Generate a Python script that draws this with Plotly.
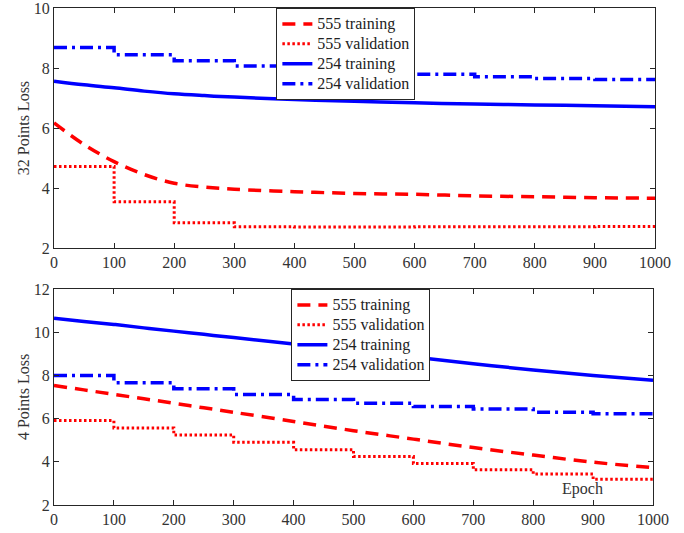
import plotly.graph_objects as go

# ---------------- data ----------------
epochs_train = [0, 50, 100, 150, 200, 250, 300, 400, 500, 600, 700, 800, 900, 1000]
epochs_step = [0, 100, 200, 300, 400, 500, 600, 700, 800, 900, 1000]

# 32 points
top_555_train = [6.17, 5.45, 4.88, 4.45, 4.16, 4.03, 3.96, 3.88, 3.82, 3.79, 3.74, 3.71, 3.68, 3.66]
top_555_val = [4.72, 3.54, 2.84, 2.71, 2.70, 2.70, 2.71, 2.71, 2.71, 2.72, 2.72]
top_254_train = [7.56, 7.44, 7.34, 7.23, 7.14, 7.08, 7.03, 6.95, 6.89, 6.84, 6.80, 6.77, 6.74, 6.71]
top_254_val = [8.68, 8.44, 8.24, 8.07, 7.96, 7.86, 7.79, 7.71, 7.65, 7.62, 7.62]

# 4 points
bot_555_train = [7.53, 7.33, 7.12, 6.92, 6.71, 6.50, 6.29, 5.87, 5.44, 5.05, 4.66, 4.31, 3.98, 3.73]
bot_555_val = [5.91, 5.57, 5.24, 4.90, 4.56, 4.25, 3.92, 3.63, 3.43, 3.19, 3.19]
bot_254_train = [10.65, 10.50, 10.36, 10.20, 10.05, 9.90, 9.75, 9.45, 9.15, 8.85, 8.54, 8.25, 8.00, 7.77]
bot_254_val = [8.00, 7.66, 7.38, 7.12, 6.88, 6.71, 6.56, 6.45, 6.29, 6.22, 6.22]

names = ["555 training", "555 validation", "254 training", "254 validation"]
x_ticks = [0, 100, 200, 300, 400, 500, 600, 700, 800, 900, 1000]

RED = "#FF0000"
BLUE = "#0000FF"
FONT = "Liberation Serif"
AX = "#262626"
TXT = "#333333"

fig = go.Figure()

def label(s):
    return '<span style="font-size:16px">' + s + '</span>'

def add_set(tr555, val555, tr254, val254, xa, ya, legend):
    fig.add_trace(go.Scatter(x=epochs_train, y=tr555, mode="lines", name=label(names[0]),
                             line=dict(color=RED, width=3.5, dash="13px,8px", shape="spline"),
                             xaxis=xa, yaxis=ya, legend=legend))
    fig.add_trace(go.Scatter(x=epochs_step, y=val555, mode="lines", name=label(names[1]),
                             line=dict(color=RED, width=3, dash="2.5px,2.5px", shape="hv"),
                             xaxis=xa, yaxis=ya, legend=legend))
    fig.add_trace(go.Scatter(x=epochs_train, y=tr254, mode="lines", name=label(names[2]),
                             line=dict(color=BLUE, width=3.5, shape="spline"),
                             xaxis=xa, yaxis=ya, legend=legend))
    fig.add_trace(go.Scatter(x=epochs_step, y=val254, mode="lines", name=label(names[3]),
                             line=dict(color=BLUE, width=3.5, dash="13px,5px,3px,5px", shape="hv"),
                             xaxis=xa, yaxis=ya, legend=legend))

add_set(top_555_train, top_555_val, top_254_train, top_254_val, "x", "y", "legend")
add_set(bot_555_train, bot_555_val, bot_254_train, bot_254_val, "x2", "y2", "legend2")

axis_common = dict(showline=True, linecolor=AX, linewidth=1, mirror="allticks",
                   ticks="inside", ticklen=5, tickcolor=AX, showgrid=False, zeroline=False,
                   automargin=False, ticklabeloverflow="allow",
                   tickfont=dict(family=FONT, size=16, color=TXT))

legend_common = dict(bgcolor="white", bordercolor=AX, borderwidth=1,
                     font=dict(family=FONT, size=13, color="#222222"),
                     xanchor="left", yanchor="top", itemwidth=30, tracegroupgap=0)

fig.update_layout(
    width=684, height=533,
    margin=dict(l=54, r=29, t=8, b=28, autoexpand=False),
    plot_bgcolor="white", paper_bgcolor="white",
    xaxis=dict(domain=[0, 1], range=[0, 1000], tickvals=x_ticks, anchor="y", **axis_common),
    yaxis=dict(domain=[0.517, 1], range=[2, 10], tickvals=[2, 4, 6, 8, 10], anchor="x",
               title=dict(text="32 Points Loss", standoff=0,
                          font=dict(family=FONT, size=16, color=TXT)),
               **axis_common),
    xaxis2=dict(domain=[0, 0.9967], range=[0, 1000], tickvals=x_ticks, anchor="y2", **axis_common),
    yaxis2=dict(domain=[0, 0.4346], range=[2, 12], tickvals=[2, 4, 6, 8, 10, 12], anchor="x2",
                title=dict(text="4 Points Loss", standoff=0,
                           font=dict(family=FONT, size=16, color=TXT)),
                **axis_common),
    legend=dict(x=0.37, y=1.0, **legend_common),
    legend2=dict(x=0.395, y=0.4346, **legend_common),
    showlegend=True,
    annotations=[dict(text="Epoch", x=0.88, y=0.032, xref="paper", yref="paper",
                      showarrow=False, xanchor="center", yanchor="middle",
                      font=dict(family=FONT, size=16, color=TXT))],
)

fig.write_html("out.html", config={"displayModeBar": False},
               post_script="document.body.style.margin='0px';")
